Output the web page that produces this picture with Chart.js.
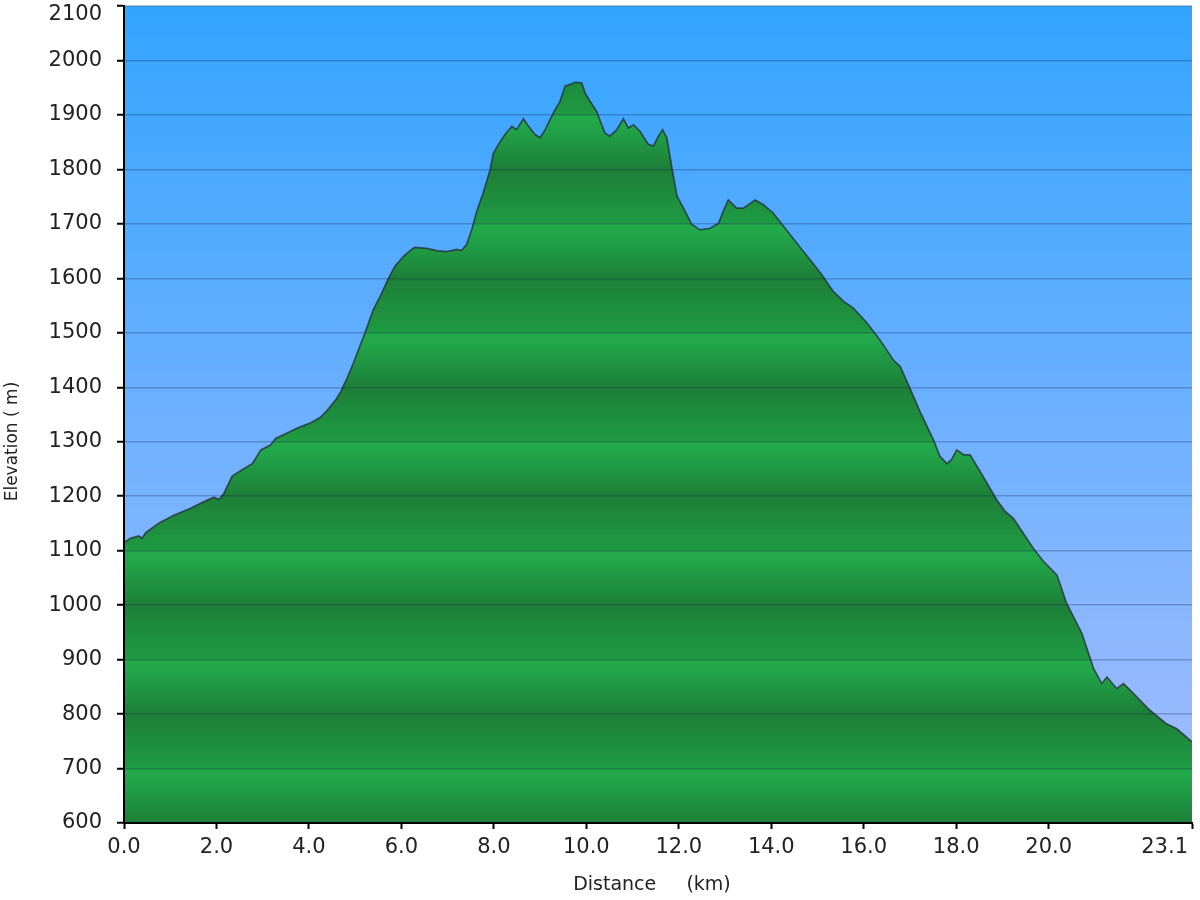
<!DOCTYPE html>
<html>
<head>
<meta charset="utf-8">
<title>Elevation profile</title>
<script src="https://cdn.jsdelivr.net/npm/chart.js@4/dist/chart.umd.min.js"></script>
<style>
  body { margin: 0; background: #fff; }
  #wrap { width: 1200px; height: 900px; }
</style>
</head>
<body>
<div id="wrap"><canvas id="profileChart" width="1200" height="900"></canvas></div>
<script>
// distance along the track (km) and elevation (m)
const distKm = [0.00, 0.15, 0.32, 0.39, 0.47, 0.76, 1.08, 1.44, 1.73, 1.95,
  2.05, 2.16, 2.34, 2.60, 2.78, 2.96, 3.17, 3.28, 3.53, 3.75,
  4.04, 4.25, 4.40, 4.58, 4.69, 4.80, 4.96, 5.10, 5.21, 5.39,
  5.54, 5.72, 5.86, 6.04, 6.22, 6.29, 6.55, 6.76, 6.98, 7.20,
  7.30, 7.41, 7.52, 7.63, 7.77, 7.92, 7.99, 8.10, 8.24, 8.39,
  8.49, 8.64, 8.75, 8.89, 9.00, 9.11, 9.29, 9.43, 9.54, 9.65,
  9.76, 9.90, 9.97, 10.08, 10.22, 10.40, 10.51, 10.66, 10.80, 10.91,
  11.02, 11.16, 11.34, 11.45, 11.56, 11.65, 11.74, 11.85, 11.96, 12.10,
  12.28, 12.46, 12.68, 12.86, 12.96, 13.07, 13.25, 13.40, 13.65, 13.83,
  14.04, 14.26, 14.55, 14.84, 15.09, 15.34, 15.56, 15.78, 16.07, 16.35,
  16.64, 16.79, 17.00, 17.22, 17.51, 17.65, 17.80, 17.90, 18.01, 18.16,
  18.30, 18.52, 18.88, 19.06, 19.24, 19.67, 19.89, 20.18, 20.39, 20.72,
  20.97, 21.15, 21.26, 21.47, 21.62, 21.91, 22.19, 22.55, 22.77, 23.10];
const elevM = [1115, 1123, 1127, 1123, 1133, 1151, 1165, 1178, 1190, 1198,
  1194, 1205, 1237, 1251, 1260, 1285, 1294, 1306, 1316, 1325,
  1335, 1345, 1358, 1377, 1392, 1412, 1444, 1475, 1499, 1542,
  1567, 1600, 1622, 1640, 1653, 1657, 1655, 1651, 1649, 1653,
  1651, 1662, 1689, 1723, 1757, 1800, 1830, 1846, 1864, 1879,
  1873, 1893, 1879, 1864, 1858, 1873, 1904, 1925, 1953, 1956,
  1960, 1959, 1941, 1925, 1907, 1867, 1861, 1873, 1893, 1876,
  1882, 1870, 1846, 1843, 1861, 1873, 1858, 1803, 1751, 1729,
  1699, 1689, 1692, 1701, 1723, 1744, 1729, 1729, 1744, 1735,
  1720, 1696, 1665, 1634, 1607, 1576, 1558, 1545, 1518, 1487,
  1450, 1438, 1398, 1355, 1303, 1273, 1260, 1267, 1285, 1276,
  1276, 1245, 1193, 1172, 1159, 1104, 1080, 1055, 1003, 948,
  884, 856, 868, 847, 856, 831, 807, 782, 773, 749];
const xTicks = [0, 2, 4, 6, 8, 10, 12, 14, 16, 18, 20, 23.1];
const yMin = 600;
const yMax = 2100;

Chart.defaults.font.family = "'DejaVu Sans', Verdana, sans-serif";

const points = distKm.map((d, i) => ({ x: d, y: elevM[i] }));

// banded green fill, one light/dark cycle every 200 m
function groundFill(context) {
  const chart = context.chart;
  const area = chart.chartArea;
  if (!area) return '#22aa4a';
  const ys = chart.scales.y;
  const g = chart.ctx.createLinearGradient(0, area.top, 0, area.bottom);
  const h = area.bottom - area.top;
  const clamp = t => Math.min(Math.max(t, 0), 1);
  const band = (ys.getPixelForValue(yMin) - ys.getPixelForValue(yMin + 100)) / h;
  for (let v = yMin; v <= yMax; v += 100) {
    const t = (ys.getPixelForValue(v) - area.top) / h;
    if ((v / 100) % 2 === 0) {
      g.addColorStop(clamp(t), '#1d7f38');
    } else {
      g.addColorStop(clamp(t - 0.002), '#1f9a43');
      g.addColorStop(clamp(t + 0.002), '#22ab4b');
      g.addColorStop(clamp(t + band * 0.25), '#21a449');
    }
  }
  return g;
}

const skyPlugin = {
  id: 'sky',
  beforeDraw(chart) {
    const { ctx, chartArea } = chart;
    const g = ctx.createLinearGradient(0, chartArea.top, 0, chartArea.bottom);
    g.addColorStop(0, '#33a4ff');
    g.addColorStop(1, '#a6bdfe');
    ctx.save();
    ctx.fillStyle = g;
    ctx.fillRect(chartArea.left, chartArea.top, chartArea.right - chartArea.left, chartArea.bottom - chartArea.top);
    ctx.restore();

    // last distance label sits flush with the right end, top elevation label below its tick
    const xItems = chart.scales.x.getLabelItems();
    const last = xItems[xItems.length - 1];
    if (last) {
      last.options.textAlign = 'right';
      last.options.translation[0] = chartArea.right - 4;
    }
    const yItems = chart.scales.y.getLabelItems();
    yItems.forEach(it => {
      if (it.label === '2100') it.options.translation[1] = chartArea.top + 9;
    });
  }
};

new Chart(document.getElementById('profileChart'), {
  type: 'line',
  data: {
    datasets: [{
      data: points,
      borderColor: 'rgba(35,35,45,0.7)',
      borderWidth: 1.7,
      backgroundColor: groundFill,
      fill: 'start',
      pointRadius: 0,
      tension: 0
    }]
  },
  options: {
    responsive: false,
    animation: false,
    layout: { padding: { top: 6, right: 8, bottom: 0, left: 0 } },
    plugins: {
      legend: { display: false },
      tooltip: { enabled: false }
    },
    scales: {
      x: {
        type: 'linear',
        min: 0,
        max: 23.1,
        afterBuildTicks: scale => { scale.ticks = xTicks.map(v => ({ value: v })); },
        afterFit: scale => {
          scale.height = 77;
          scale.paddingLeft = 0;
          scale.paddingRight = 0;
        },
        ticks: {
          autoSkip: false,
          maxRotation: 0,
          padding: 6,
          color: '#222',
          font: { size: 21 },
          callback: v => Number(v).toFixed(1)
        },
        grid: { drawOnChartArea: false, drawTicks: true, tickLength: 6, tickColor: '#000', tickWidth: 2, z: 1 },
        border: { color: '#000', width: 2, z: 2 },
        title: {
          display: true,
          text: 'Distance     (km)  ',
          color: '#222',
          font: { size: 19 },
          padding: { top: 4, bottom: 4 }
        }
      },
      y: {
        min: yMin,
        max: yMax,
        afterFit: scale => {
          scale.width = 124;
          scale.paddingTop = 0;
          scale.paddingBottom = 0;
        },
        ticks: {
          stepSize: 100,
          padding: 15,
          color: '#222',
          font: { size: 21 },
          callback: v => String(v)
        },
        grid: {
          color: 'rgba(20,40,80,0.28)',
          lineWidth: 1.5,
          tickColor: '#000',
          tickLength: 7,
          tickWidth: 2,
          z: 1
        },
        border: { color: '#000', width: 2, z: 2 },
        title: {
          display: true,
          text: 'Elevation ( m)          ',
          color: '#222',
          font: { size: 17 },
          padding: { top: 2, bottom: 0 }
        }
      }
    }
  },
  plugins: [skyPlugin]
});
</script>
</body>
</html>
